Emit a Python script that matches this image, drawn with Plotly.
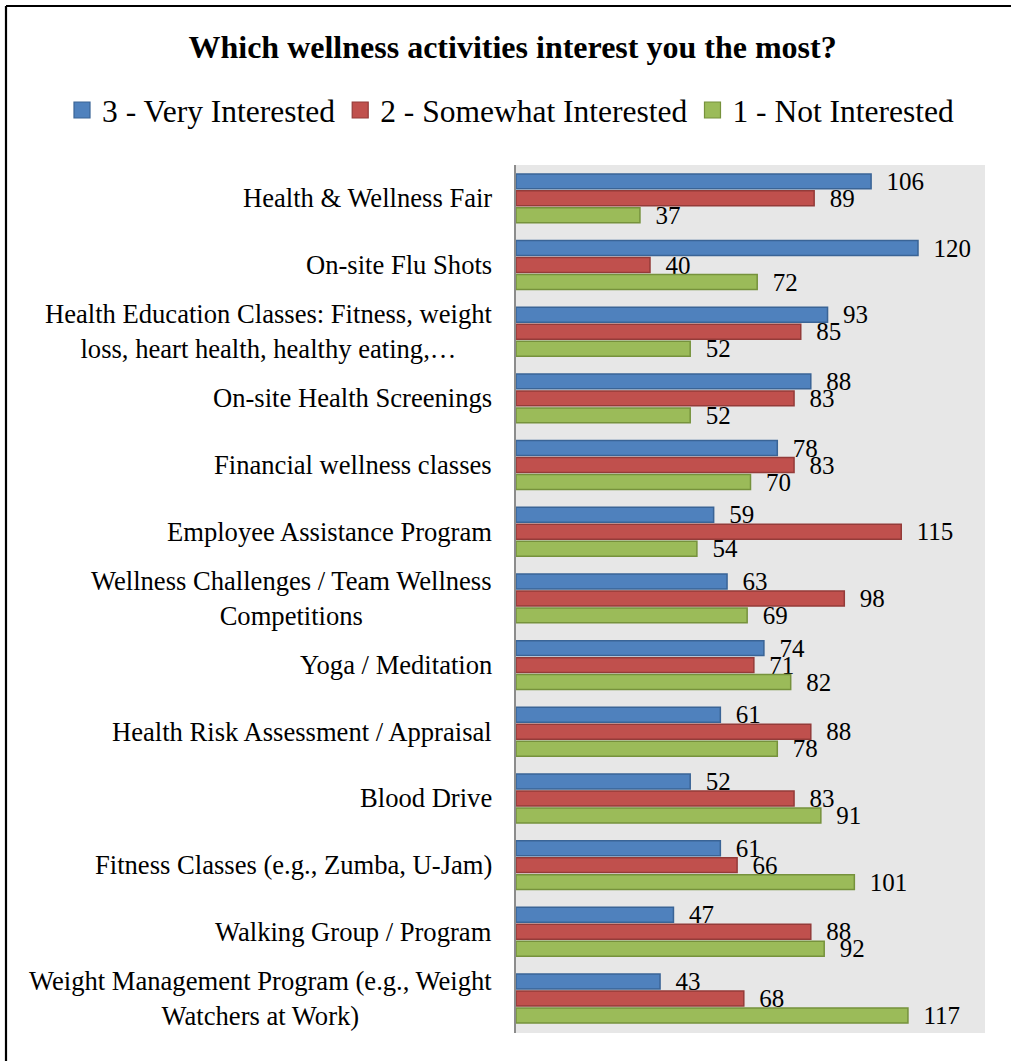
import plotly.graph_objects as go

# Survey results: number of respondents per interest level for each activity
categories = [
    "Health & Wellness Fair",
    "On-site Flu Shots",
    "Health Education Classes: Fitness, weight<br>loss, heart health, healthy eating,…",
    "On-site Health Screenings",
    "Financial wellness classes",
    "Employee Assistance Program",
    "Wellness Challenges / Team Wellness<br>Competitions",
    "Yoga / Meditation",
    "Health Risk Assessment / Appraisal",
    "Blood Drive",
    "Fitness Classes (e.g., Zumba, U-Jam)",
    "Walking Group / Program",
    "Weight Management Program (e.g., Weight<br>Watchers at Work)",
]
very_interested = [106, 120, 93, 88, 78, 59, 63, 74, 61, 52, 61, 47, 43]
somewhat_interested = [89, 40, 85, 83, 83, 115, 98, 71, 88, 83, 66, 88, 68]
not_interested = [37, 72, 52, 52, 70, 54, 69, 82, 78, 91, 101, 92, 117]
series_names = ["3 - Very Interested", "2 - Somewhat Interested", "1 - Not Interested"]

FONT = "Liberation Serif"
fills = ["#4F81BD", "#C0504D", "#9BBB59"]
edges = ["#3A6496", "#943B39", "#76923C"]

W, H = 1011, 1061
ML, MR, MT, MB = 516, 26, 165, 28
PW, PH = W - ML - MR, H - MT - MB

fig = go.Figure()
for name, vals, fc, ec in zip(series_names,
                              [very_interested, somewhat_interested, not_interested],
                              fills, edges):
    fig.add_trace(go.Bar(
        y=categories, x=vals, orientation="h", name=name,
        marker=dict(color=fc, line=dict(color=ec, width=1.5)),
        texttemplate="\u00a0\u00a0%{x}", textposition="outside",
        outsidetextfont=dict(family=FONT, size=25, color="#000000"),
        constraintext="none", cliponaxis=False, showlegend=False,
        hoverinfo="x+y",
    ))
    # legend swatch
    fig.add_trace(go.Scatter(
        x=[None], y=[None], mode="markers", name=name,
        marker=dict(symbol="square", size=17, color=fc, line=dict(color=ec, width=1.2)),
        showlegend=True,
    ))

# category labels, centred line by line and right-aligned to the axis
for c in categories:
    fig.add_annotation(
        x=0, xref="paper", y=c, yref="y", xanchor="right", yanchor="middle",
        xshift=-22, text=c, showarrow=False, align="center",
        font=dict(family=FONT, size=26.6, color="#000000"),
    )

# outer chart frame: only the top and left edges fall inside the page
fx0, fy0 = (6 - ML) / PW, 1 + (MT - 6) / PH
frame = dict(type="line", xref="paper", yref="paper",
             line=dict(color="#000000", width=2.2), layer="above")
fig.add_shape(x0=fx0, y0=fy0, x1=(W + 20 - ML) / PW, y1=fy0, **frame)
fig.add_shape(x0=fx0, y0=fy0, x1=fx0, y1=-(MB + 20) / PH, **frame)

fig.update_layout(
    width=W, height=H,
    margin=dict(l=ML, r=MR, t=MT, b=MB, pad=0),
    paper_bgcolor="#FFFFFF", plot_bgcolor="#E7E7E7",
    barmode="group", bargap=0.236, bargroupgap=0.12,
    font=dict(family=FONT, color="#000000"),
    title=dict(
        text="<b>Which wellness activities interest you the most?</b>",
        font=dict(family=FONT, size=32, color="#000000"),
        x=0.507, xref="container", xanchor="center",
        y=1 - 47 / H, yref="container", yanchor="middle",
        automargin=False,
    ),
    legend=dict(
        orientation="h", xref="paper", yref="paper",
        x=(62 - ML) / PW, xanchor="left",
        y=1 + (MT - 110) / PH, yanchor="middle",
        font=dict(family=FONT, size=31.5, color="#000000"),
        bgcolor="rgba(0,0,0,0)", itemsizing="trace", traceorder="normal",
        itemwidth=30,
    ),
    xaxis=dict(range=[0, 140], visible=False, fixedrange=True),
    yaxis=dict(
        autorange="reversed", showticklabels=False, ticks="",
        showline=True, linecolor="#8C8C8C", linewidth=2, mirror=False,
        showgrid=False, zeroline=False, fixedrange=True,
    ),
    showlegend=True,
)

# keep the page itself from scrolling so the figure fills the window exactly
page_css = ("document.documentElement.style.overflow='hidden';"
            "document.body.style.overflow='hidden';"
            "document.body.style.margin='0';")
fig.write_html("out.html", post_script=page_css,
               config={"displayModeBar": False})
